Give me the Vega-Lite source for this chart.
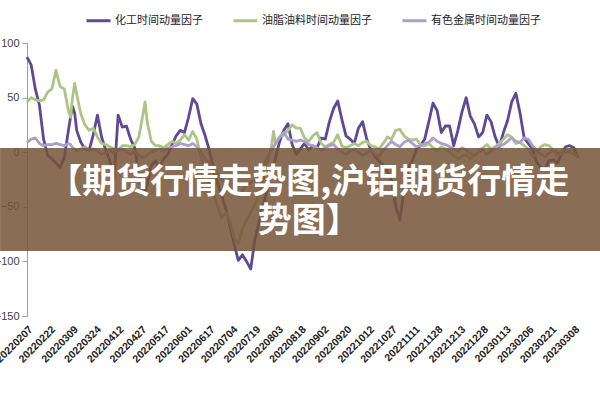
{
"$schema": "https://vega.github.io/schema/vega-lite/v6.json",
"width": 551, "height": 273,
"autosize": {"type": "none"},
"padding": {"left": 27, "top": 43, "right": 22, "bottom": 84},
"background": "white",
"config": {"view": {"stroke": null}, "font": "Liberation Sans",
"axisX": {"title": null, "labelAngle": -45, "labelAlign": "right", "labelBaseline": "top", "labelFontSize": 10.5, "labelFontWeight": "bold", "labelColor": "#222222", "labelPadding": 8, "domain": false, "ticks": false, "grid": false, "labelOverlap": false, "labelBound": false, "labelFont": "Liberation Sans"},
"axisY": {"title": null, "grid": false, "domainColor": "#8EA2BE", "tickColor": "#8EA2BE", "tickSize": 5, "labelFontSize": 11, "labelColor": "#404040", "labelPadding": 3, "labelFont": "Liberation Sans"}
},
"layer": [
{
"data": {"values": [
{"i":0,"化工时间动量因子":87,"油脂油料时间动量因子":46,"有色金属时间动量因子":9},
{"i":2,"化工时间动量因子":80,"油脂油料时间动量因子":50,"有色金属时间动量因子":12},
{"i":4,"化工时间动量因子":58,"油脂油料时间动量因子":48,"有色金属时间动量因子":13},
{"i":6,"化工时间动量因子":43,"油脂油料时间动量因子":47,"有色金属时间动量因子":8},
{"i":8,"化工时间动量因子":12,"油脂油料时间动量因子":48,"有色金属时间动量因子":6},
{"i":10,"化工时间动量因子":-3,"油脂油料时间动量因子":55,"有色金属时间动量因子":7},
{"i":12,"化工时间动量因子":-6,"油脂油料时间动量因子":58,"有色金属时间动量因子":7},
{"i":14,"化工时间动量因子":-10,"油脂油料时间动量因子":75,"有色金属时间动量因子":8},
{"i":16,"化工时间动量因子":-14,"油脂油料时间动量因子":60,"有色金属时间动量因子":7},
{"i":18,"化工时间动量因子":-5,"油脂油料时间动量因子":58,"有色金属时间动量因子":6},
{"i":20,"化工时间动量因子":20,"油脂油料时间动量因子":38,"有色金属时间动量因子":8},
{"i":21,"化工时间动量因子":32,"油脂油料时间动量因子":32,"有色金属时间动量因子":7},
{"i":22,"化工时间动量因子":42,"油脂油料时间动量因子":50,"有色金属时间动量因子":4},
{"i":23,"化工时间动量因子":36,"油脂油料时间动量因子":63,"有色金属时间动量因子":3},
{"i":24,"化工时间动量因子":20,"油脂油料时间动量因子":53,"有色金属时间动量因子":1},
{"i":26,"化工时间动量因子":9,"油脂油料时间动量因子":35,"有色金属时间动量因子":3},
{"i":28,"化工时间动量因子":3,"油脂油料时间动量因子":25,"有色金属时间动量因子":5},
{"i":30,"化工时间动量因子":2,"油脂油料时间动量因子":20,"有色金属时间动量因子":2},
{"i":32,"化工时间动量因子":16,"油脂油料时间动量因子":22,"有色金属时间动量因子":3},
{"i":34,"化工时间动量因子":34,"油脂油料时间动量因子":14,"有色金属时间动量因子":1},
{"i":36,"化工时间动量因子":14,"油脂油料时间动量因子":8,"有色金属时间动量因子":-2},
{"i":38,"化工时间动量因子":2,"油脂油料时间动量因子":7,"有色金属时间动量因子":0},
{"i":40,"化工时间动量因子":-8,"油脂油料时间动量因子":5,"有色金属时间动量因子":2},
{"i":42,"化工时间动量因子":-25,"油脂油料时间动量因子":3,"有色金属时间动量因子":-1},
{"i":44,"化工时间动量因子":34,"油脂油料时间动量因子":2,"有色金属时间动量因子":1},
{"i":46,"化工时间动量因子":23,"油脂油料时间动量因子":6,"有色金属时间动量因子":3},
{"i":48,"化工时间动量因子":24,"油脂油料时间动量因子":6,"有色金属时间动量因子":0},
{"i":50,"化工时间动量因子":12,"油脂油料时间动量因子":5,"有色金属时间动量因子":-2},
{"i":52,"化工时间动量因子":4,"油脂油料时间动量因子":7,"有色金属时间动量因子":1},
{"i":54,"化工时间动量因子":-20,"油脂油料时间动量因子":14,"有色金属时间动量因子":-3},
{"i":56,"化工时间动量因子":-38,"油脂油料时间动量因子":35,"有色金属时间动量因子":-5},
{"i":57,"化工时间动量因子":-36,"油脂油料时间动量因子":46,"有色金属时间动量因子":-4},
{"i":58,"化工时间动量因子":-30,"油脂油料时间动量因子":28,"有色金属时间动量因子":-2},
{"i":60,"化工时间动量因子":-12,"油脂油料时间动量因子":10,"有色金属时间动量因子":0},
{"i":62,"化工时间动量因子":-8,"油脂油料时间动量因子":6,"有色金属时间动量因子":2},
{"i":64,"化工时间动量因子":-14,"油脂油料时间动量因子":6,"有色金属时间动量因子":3},
{"i":66,"化工时间动量因子":-6,"油脂油料时间动量因子":4,"有色金属时间动量因子":1},
{"i":68,"化工时间动量因子":-2,"油脂油料时间动量因子":7,"有色金属时间动量因子":4},
{"i":70,"化工时间动量因子":7,"油脂油料时间动量因子":10,"有色金属时间动量因子":5},
{"i":72,"化工时间动量因子":15,"油脂油料时间动量因子":8,"有色金属时间动量因子":6},
{"i":74,"化工时间动量因子":20,"油脂油料时间动量因子":11,"有色金属时间动量因子":8},
{"i":76,"化工时间动量因子":18,"油脂油料时间动量因子":16,"有色金属时间动量因子":7},
{"i":78,"化工时间动量因子":32,"油脂油料时间动量因子":11,"有色金属时间动量因子":6},
{"i":80,"化工时间动量因子":49,"油脂油料时间动量因子":19,"有色金属时间动量因子":8},
{"i":82,"化工时间动量因子":44,"油脂油料时间动量因子":12,"有色金属时间动量因子":5},
{"i":84,"化工时间动量因子":26,"油脂油料时间动量因子":-5,"有色金属时间动量因子":0},
{"i":86,"化工时间动量因子":15,"油脂油料时间动量因子":-15,"有色金属时间动量因子":-6},
{"i":88,"化工时间动量因子":2,"油脂油料时间动量因子":-25,"有色金属时间动量因子":-10},
{"i":90,"化工时间动量因子":-14,"油脂油料时间动量因子":-38,"有色金属时间动量因子":-14},
{"i":92,"化工时间动量因子":-28,"油脂油料时间动量因子":-50,"有色金属时间动量因子":-20},
{"i":94,"化工时间动量因子":-40,"油脂油料时间动量因子":-60,"有色金属时间动量因子":-25},
{"i":96,"化工时间动量因子":-52,"油脂油料时间动量因子":-55,"有色金属时间动量因子":-28},
{"i":98,"化工时间动量因子":-68,"油脂油料时间动量因子":-64,"有色金属时间动量因子":-32},
{"i":100,"化工时间动量因子":-84,"油脂油料时间动量因子":-78,"有色金属时间动量因子":-36},
{"i":102,"化工时间动量因子":-99,"油脂油料时间动量因子":-84,"有色金属时间动量因子":-40},
{"i":104,"化工时间动量因子":-94,"油脂油料时间动量因子":-70,"有色金属时间动量因子":-35},
{"i":106,"化工时间动量因子":-100,"油脂油料时间动量因子":-62,"有色金属时间动量因子":-30},
{"i":108,"化工时间动量因子":-107,"油脂油料时间动量因子":-55,"有色金属时间动量因子":-28},
{"i":110,"化工时间动量因子":-80,"油脂油料时间动量因子":-48,"有色金属时间动量因子":-25},
{"i":112,"化工时间动量因子":-64,"油脂油料时间动量因子":-38,"有色金属时间动量因子":-20},
{"i":114,"化工时间动量因子":-48,"油脂油料时间动量因子":-25,"有色金属时间动量因子":-12},
{"i":116,"化工时间动量因子":-35,"油脂油料时间动量因子":-10,"有色金属时间动量因子":-5},
{"i":118,"化工时间动量因子":-18,"油脂油料时间动量因子":5,"有色金属时间动量因子":2},
{"i":119,"化工时间动量因子":-12,"油脂油料时间动量因子":19,"有色金属时间动量因子":5},
{"i":120,"化工时间动量因子":-5,"油脂油料时间动量因子":8,"有色金属时间动量因子":8},
{"i":122,"化工时间动量因子":10,"油脂油料时间动量因子":14,"有色金属时间动量因子":14},
{"i":124,"化工时间动量因子":20,"油脂油料时间动量因子":16,"有色金属时间动量因子":18},
{"i":126,"化工时间动量因子":26,"油脂油料时间动量因子":20,"有色金属时间动量因子":12},
{"i":128,"化工时间动量因子":7,"油脂油料时间动量因子":25,"有色金属时间动量因子":11},
{"i":130,"化工时间动量因子":-2,"油脂油料时间动量因子":22,"有色金属时间动量因子":10},
{"i":132,"化工时间动量因子":3,"油脂油料时间动量因子":22,"有色金属时间动量因子":11},
{"i":134,"化工时间动量因子":8,"油脂油料时间动量因子":13,"有色金属时间动量因子":10},
{"i":136,"化工时间动量因子":2,"油脂油料时间动量因子":10,"有色金属时间动量因子":7},
{"i":138,"化工时间动量因子":6,"油脂油料时间动量因子":15,"有色金属时间动量因子":6},
{"i":140,"化工时间动量因子":4,"油脂油料时间动量因子":18,"有色金属时间动量因子":4},
{"i":142,"化工时间动量因子":13,"油脂油料时间动量因子":8,"有色金属时间动量因子":2},
{"i":144,"化工时间动量因子":12,"油脂油料时间动量因子":5,"有色金属时间动量因子":4},
{"i":146,"化工时间动量因子":28,"油脂油料时间动量因子":7,"有色金属时间动量因子":6},
{"i":148,"化工时间动量因子":40,"油脂油料时间动量因子":9,"有色金属时间动量因子":7},
{"i":150,"化工时间动量因子":47,"油脂油料时间动量因子":16,"有色金属时间动量因子":3},
{"i":152,"化工时间动量因子":30,"油脂油料时间动量因子":6,"有色金属时间动量因子":0},
{"i":154,"化工时间动量因子":15,"油脂油料时间动量因子":4,"有色金属时间动量因子":-2},
{"i":156,"化工时间动量因子":12,"油脂油料时间动量因子":6,"有色金属时间动量因子":1},
{"i":158,"化工时间动量因子":8,"油脂油料时间动量因子":8,"有色金属时间动量因子":3},
{"i":160,"化工时间动量因子":22,"油脂油料时间动量因子":6,"有色金属时间动量因子":0},
{"i":162,"化工时间动量因子":28,"油脂油料时间动量因子":9,"有色金属时间动量因子":-3},
{"i":164,"化工时间动量因子":12,"油脂油料时间动量因子":10,"有色金属时间动量因子":-1},
{"i":166,"化工时间动量因子":2,"油脂油料时间动量因子":6,"有色金属时间动量因子":2},
{"i":168,"化工时间动量因子":-4,"油脂油料时间动量因子":5,"有色金属时间动量因子":-2},
{"i":170,"化工时间动量因子":-8,"油脂油料时间动量因子":3,"有色金属时间动量因子":-4},
{"i":172,"化工时间动量因子":-12,"油脂油料时间动量因子":8,"有色金属时间动量因子":2},
{"i":174,"化工时间动量因子":-18,"油脂油料时间动量因子":14,"有色金属时间动量因子":6},
{"i":176,"化工时间动量因子":-26,"油脂油料时间动量因子":12,"有色金属时间动量因子":10},
{"i":178,"化工时间动量因子":-50,"油脂油料时间动量因子":20,"有色金属时间动量因子":7},
{"i":180,"化工时间动量因子":-62,"油脂油料时间动量因子":21,"有色金属时间动量因子":5},
{"i":182,"化工时间动量因子":-35,"油脂油料时间动量因子":15,"有色金属时间动量因子":9},
{"i":184,"化工时间动量因子":-15,"油脂油料时间动量因子":12,"有色金属时间动量因子":11},
{"i":186,"化工时间动量因子":-8,"油脂油料时间动量因子":11,"有色金属时间动量因子":8},
{"i":188,"化工时间动量因子":3,"油脂油料时间动量因子":12,"有色金属时间动量因子":5},
{"i":190,"化工时间动量因子":6,"油脂油料时间动量因子":7,"有色金属时间动量因子":6},
{"i":192,"化工时间动量因子":12,"油脂油料时间动量因子":6,"有色金属时间动量因子":8},
{"i":194,"化工时间动量因子":28,"油脂油料时间动量因子":8,"有色金属时间动量因子":9},
{"i":196,"化工时间动量因子":45,"油脂油料时间动量因子":4,"有色金属时间动量因子":13},
{"i":198,"化工时间动量因子":38,"油脂油料时间动量因子":2,"有色金属时间动量因子":10},
{"i":200,"化工时间动量因子":18,"油脂油料时间动量因子":5,"有色金属时间动量因子":8},
{"i":202,"化工时间动量因子":24,"油脂油料时间动量因子":3,"有色金属时间动量因子":7},
{"i":204,"化工时间动量因子":24,"油脂油料时间动量因子":0,"有色金属时间动量因子":5},
{"i":206,"化工时间动量因子":6,"油脂油料时间动量因子":-3,"有色金属时间动量因子":3},
{"i":208,"化工时间动量因子":20,"油脂油料时间动量因子":-6,"有色金属时间动量因子":1},
{"i":210,"化工时间动量因子":37,"油脂油料时间动量因子":-4,"有色金属时间动量因子":4},
{"i":212,"化工时间动量因子":50,"油脂油料时间动量因子":-2,"有色金属时间动量因子":2},
{"i":214,"化工时间动量因子":33,"油脂油料时间动量因子":-6,"有色金属时间动量因子":-1},
{"i":216,"化工时间动量因子":26,"油脂油料时间动量因子":-3,"有色金属时间动量因子":-3},
{"i":218,"化工时间动量因子":14,"油脂油料时间动量因子":1,"有色金属时间动量因子":0},
{"i":220,"化工时间动量因子":18,"油脂油料时间动量因子":4,"有色金属时间动量因子":2},
{"i":222,"化工时间动量因子":34,"油脂油料时间动量因子":7,"有色金属时间动量因子":-2},
{"i":224,"化工时间动量因子":28,"油脂油料时间动量因子":3,"有色金属时间动量因子":1},
{"i":226,"化工时间动量因子":14,"油脂油料时间动量因子":5,"有色金属时间动量因子":4},
{"i":228,"化工时间动量因子":5,"油脂油料时间动量因子":8,"有色金属时间动量因子":6},
{"i":230,"化工时间动量因子":18,"油脂油料时间动量因子":12,"有色金属时间动量因子":7},
{"i":232,"化工时间动量因子":29,"油脂油料时间动量因子":16,"有色金属时间动量因子":10},
{"i":234,"化工时间动量因子":46,"油脂油料时间动量因子":14,"有色金属时间动量因子":13},
{"i":236,"化工时间动量因子":54,"油脂油料时间动量因子":8,"有色金属时间动量因子":10},
{"i":238,"化工时间动量因子":36,"油脂油料时间动量因子":9,"有色金属时间动量因子":9},
{"i":240,"化工时间动量因子":13,"油脂油料时间动量因子":6,"有色金属时间动量因子":13},
{"i":242,"化工时间动量因子":8,"油脂油料时间动量因子":3,"有色金属时间动量因子":12},
{"i":244,"化工时间动量因子":3,"油脂油料时间动量因子":-4,"有色金属时间动量因子":6},
{"i":246,"化工时间动量因子":-9,"油脂油料时间动量因子":-2,"有色金属时间动量因子":2},
{"i":248,"化工时间动量因子":-14,"油脂油料时间动量因子":5,"有色金属时间动量因子":-2},
{"i":250,"化工时间动量因子":-16,"油脂油料时间动量因子":7,"有色金属时间动量因子":-4},
{"i":252,"化工时间动量因子":-8,"油脂油料时间动量因子":6,"有色金属时间动量因子":-1},
{"i":254,"化工时间动量因子":-7,"油脂油料时间动量因子":2,"有色金属时间动量因子":2},
{"i":256,"化工时间动量因子":-10,"油脂油料时间动量因子":-3,"有色金属时间动量因子":0},
{"i":258,"化工时间动量因子":-2,"油脂油料时间动量因子":1,"有色金属时间动量因子":-2},
{"i":260,"化工时间动量因子":5,"油脂油料时间动量因子":0,"有色金属时间动量因子":1},
{"i":262,"化工时间动量因子":6,"油脂油料时间动量因子":2,"有色金属时间动量因子":0},
{"i":264,"化工时间动量因子":4,"油脂油料时间动量因子":-1,"有色金属时间动量因子":-2},
{"i":266,"化工时间动量因子":-5,"油脂油料时间动量因子":-4,"有色金属时间动量因子":-3}
]},
"transform": [{"fold": ["化工时间动量因子", "油脂油料时间动量因子", "有色金属时间动量因子"], "as": ["series", "value"]}],
"mark": {"type": "line", "strokeWidth": 2.8, "strokeJoin": "round"},
"encoding": {
"x": {"field": "i", "type": "quantitative", "scale": {"domain": [0, 266], "nice": false, "zero": false},
"axis": {"values": [0,11,22,33,44,55,66,77,88,99,110,121,132,143,154,165,176,187,198,209,220,231,242,253,264], "labelOverlap": false,
"labelExpr": "['20220207','20220222','20220309','20220324','20220412','20220427','20220517','20220601','20220617','20220704','20220719','20220803','20220818','20220902','20220920','20221012','20221027','20221111','20221128','20221213','20221228','20230113','20230206','20230221','20230308'][round(datum.value/11)]"}},
"y": {"field": "value", "type": "quantitative", "scale": {"domain": [-150, 100], "nice": false},
"axis": {"values": [-150, -100, -50, 0, 50, 100]}},
"color": {"field": "series", "type": "nominal",
"scale": {"domain": ["化工时间动量因子", "油脂油料时间动量因子", "有色金属时间动量因子"], "range": ["#5E4A92", "#AEC487", "#AAA0C8"]},
"legend": {"title": null, "orient": "none", "legendX": 58, "legendY": -36, "direction": "horizontal", "columns": 3, "symbolType": "stroke", "symbolSize": 576, "symbolStrokeWidth": 3, "labelFontSize": 11, "labelFont": "Noto Sans CJK SC", "labelColor": "#222222", "columnPadding": 24, "labelOffset": 3}}
}
},
{
"data": {"values": [{"left": -13, "right": 277, "top": 3.8, "bottom": -90.5}]},
"mark": {"type": "rect", "color": "#765437", "opacity": 0.85},
"encoding": {
"x": {"field": "left", "type": "quantitative",
"axis": {"values": [0,11,22,33,44,55,66,77,88,99,110,121,132,143,154,165,176,187,198,209,220,231,242,253,264], "labelOverlap": false,
"labelExpr": "['20220207','20220222','20220309','20220324','20220412','20220427','20220517','20220601','20220617','20220704','20220719','20220803','20220818','20220902','20220920','20221012','20221027','20221111','20221128','20221213','20221228','20230113','20230206','20230221','20230308'][round(datum.value/11)]"}},
"x2": {"field": "right"},
"y": {"field": "top", "type": "quantitative", "axis": {"values": [-150, -100, -50, 0, 50, 100]}},
"y2": {"field": "bottom"}
}
},
{
"data": {"values": [{"t": "【期货行情走势图,沪铝期货行情走", "i": 136, "v": -28}, {"t": "势图】", "i": 136, "v": -64}]},
"mark": {"type": "text", "color": "white", "font": "Noto Sans CJK SC", "fontWeight": "bold", "fontSize": 34, "align": "center", "baseline": "middle"},
"encoding": {
"x": {"field": "i", "type": "quantitative",
"axis": {"values": [0,11,22,33,44,55,66,77,88,99,110,121,132,143,154,165,176,187,198,209,220,231,242,253,264], "labelOverlap": false,
"labelExpr": "['20220207','20220222','20220309','20220324','20220412','20220427','20220517','20220601','20220617','20220704','20220719','20220803','20220818','20220902','20220920','20221012','20221027','20221111','20221128','20221213','20221228','20230113','20230206','20230221','20230308'][round(datum.value/11)]"}},
"y": {"field": "v", "type": "quantitative", "axis": {"values": [-150, -100, -50, 0, 50, 100]}},
"text": {"field": "t"}
}
}
]
}
